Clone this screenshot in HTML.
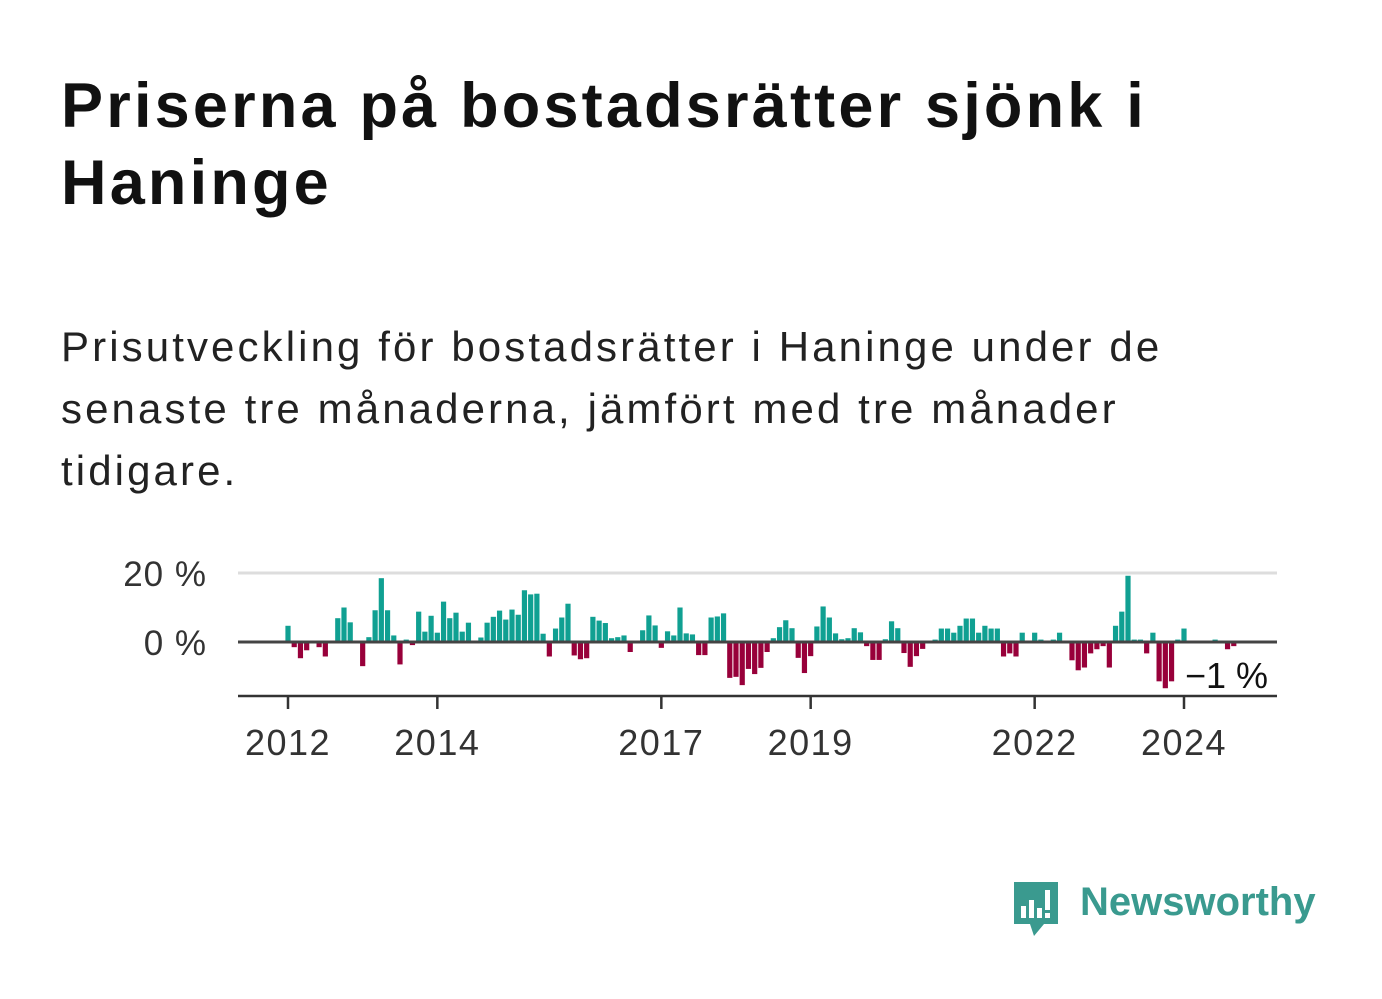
<!DOCTYPE html>
<html><head><meta charset="utf-8"><style>
body{margin:0;background:#fff;width:1382px;height:999px;overflow:hidden;font-family:"Liberation Sans",sans-serif;}
#title{position:absolute;left:61px;top:68px;font-size:63px;font-weight:bold;line-height:77px;color:#111;margin:0;letter-spacing:3.2px}
#sub{position:absolute;left:61px;top:316px;font-size:42px;line-height:62px;color:#222;margin:0;width:1300px;letter-spacing:3.1px}
svg{position:absolute;left:0;top:0}
</style></head><body>
<h1 id="title">Priserna på bostadsrätter sjönk i<br>Haninge</h1>
<p id="sub">Prisutveckling för bostadsrätter i Haninge under de<br>senaste tre månaderna, jämfört med tre månader<br>tidigare.</p>
<svg id="chart" width="1382" height="999"></svg>
<div style="position:absolute;left:1010px;top:878px;">
<svg width="52" height="62" style="position:absolute;left:0;top:0"><path d="M4 4h44v42H34l-10 12-4-12H4z" fill="#3a9a8f"/><rect x="11" y="28" width="5" height="12" fill="#fff"/><rect x="19" y="22" width="5" height="18" fill="#fff"/><rect x="27" y="30" width="5" height="10" fill="#fff"/><rect x="35" y="12" width="5" height="20" fill="#fff"/><rect x="35" y="35" width="5" height="5" fill="#fff"/></svg>
<div style="position:absolute;left:70px;top:2px;font-size:40px;font-weight:bold;color:#3a9a8f;white-space:nowrap">Newsworthy</div>
</div>
<script>
const values=[4.7,-1.5,-4.7,-2.4,0,-1.5,-4.2,0,6.9,10,5.7,0,-7,1.4,9.2,18.5,9.2,1.9,-6.5,0.7,-0.9,8.8,3,7.6,2.7,11.7,6.9,8.5,3,5.6,0,1.3,5.6,7.3,9.1,6.5,9.4,7.9,15,13.8,14,2.4,-4.2,3.9,7.1,11.1,-3.9,-5,-4.7,7.3,6.2,5.5,1.1,1.4,1.9,-2.9,0,3.4,7.7,4.8,-1.7,3.1,1.9,10,2.5,2.2,-3.8,-3.8,7.1,7.4,8.3,-10.4,-10.1,-12.5,-7.8,-9.3,-7.5,-2.9,1.1,4.3,6.3,4,-4.6,-9,-4.1,4.5,10.3,7.1,2.5,0.8,1.1,4,2.8,-1.2,-5.2,-5.2,0.8,6,4,-3.2,-7.2,-4.1,-2,0,0.7,3.9,3.9,2.7,4.7,6.8,6.8,2.7,4.7,3.9,3.9,-4.2,-3.3,-4.2,2.7,0,2.7,0.7,0,0.7,2.7,0,-5.3,-8.2,-7.4,-3.3,-2.1,-1.2,-7.4,4.7,8.8,19.2,0.7,0.7,-3.3,2.7,-11.4,-13.4,-11.4,0.7,3.9,0,0,0,0,0.7,0,-2.1,-1.2];
const startYear=2012;
const yTicks=[0,20];
const yTickLabels=["0 %","20 %"];
const xTicks=[2012,2014,2017,2019,2022,2024];
const lastLabel="−1 %";
const svg=document.getElementById('chart');const NS='http://www.w3.org/2000/svg';
const x=m=>288+m*(896/144);
const y=v=>642-v*3.45;
function add(t,a,txt){const e=document.createElementNS(NS,t);for(const k in a)e.setAttribute(k,a[k]);if(txt!==undefined)e.textContent=txt;svg.appendChild(e);return e;}
yTicks.forEach((t,i)=>{
 if(t!==0){const g=add('line',{x1:238,x2:1277,y1:y(t),y2:y(t),stroke:'#ddd','stroke-width':3});
 
 }
 const l=add('text',{x:207,y:y(t)+13,'text-anchor':'end','font-size':35,fill:'#333','font-family':'Liberation Sans','letter-spacing':1},yTickLabels[i]);
 
 
});
values.forEach((v,i)=>{
 const top=Math.min(y(v),y(0)),h=Math.abs(y(v)-y(0));
 const r=add('rect',{x:x(i)-2.6,y:top,width:5.2,height:h,fill:v>=0?'#10a092':'#98003a'});
 
 
});
const b=add('line',{x1:238,x2:1277,y1:y(0),y2:y(0),stroke:'#444','stroke-width':3});


const ax=add('line',{x1:238,x2:1277,y1:696,y2:696,stroke:'#333','stroke-width':2.5});


xTicks.forEach(yr=>{
 const xx=x((yr-startYear)*12);
 const t=add('line',{x1:xx,x2:xx,y1:696,y2:709,stroke:'#333','stroke-width':2.5});
 
 
 const l=add('text',{x:xx,y:755,'text-anchor':'middle','font-size':36,fill:'#333','font-family':'Liberation Sans','letter-spacing':1.5},String(yr));
 
 
});
const ll=add('text',{x:1268,y:688,'text-anchor':'end','font-size':36,fill:'#111','font-family':'Liberation Sans'},lastLabel);


</script>
</body></html>
